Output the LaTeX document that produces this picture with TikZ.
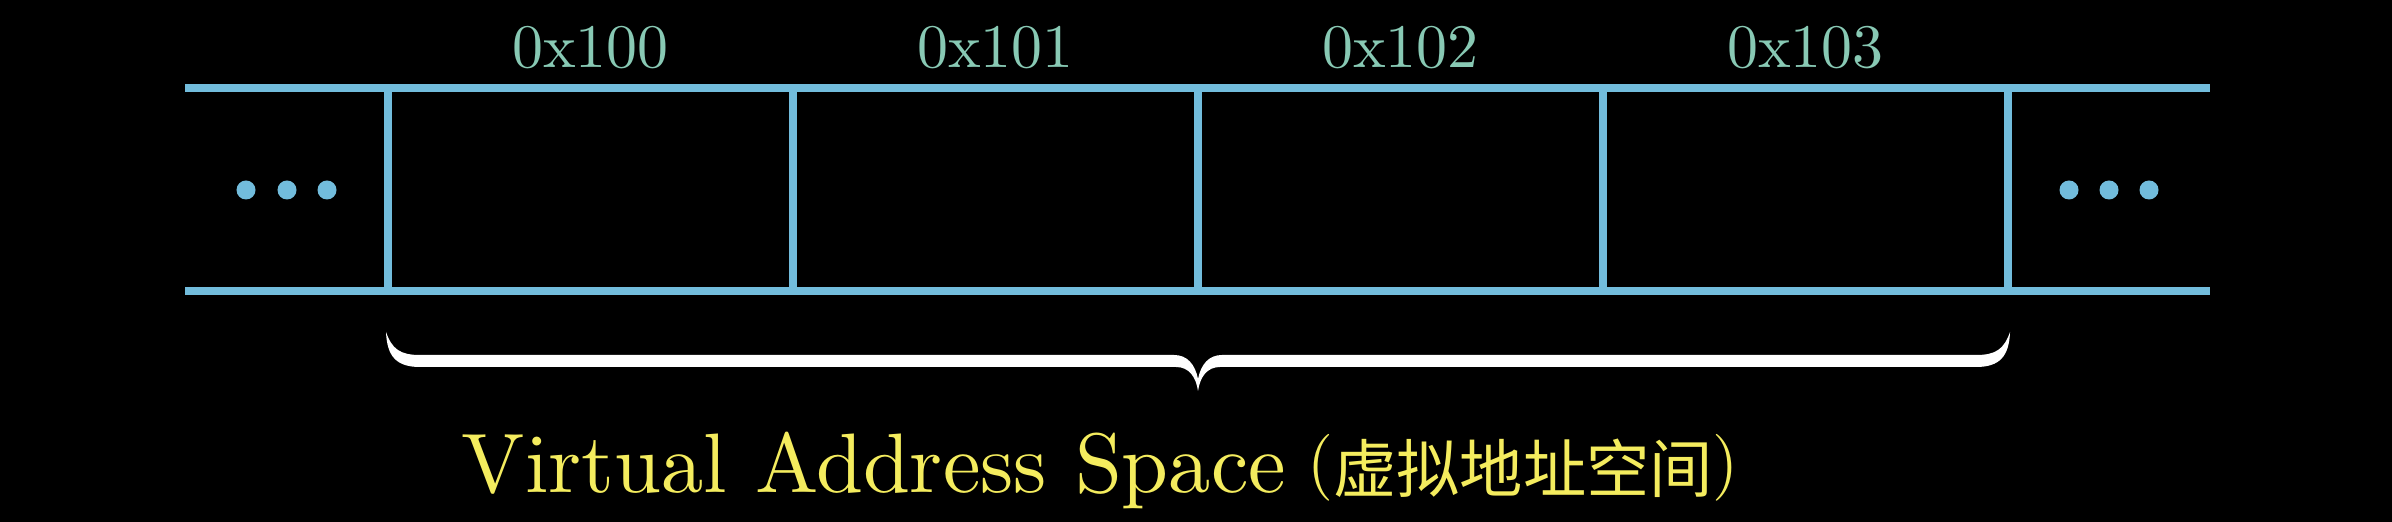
\documentclass[tikz,border=0pt]{standalone}
\usepackage{fontspec}
\newfontfamily\cjk{Noto Sans CJK SC}
\newfontfamily\lmten{lmroman10-regular.otf}
\usepackage{tikz}
\usetikzlibrary{calc, positioning}
\definecolor{memblue}{HTML}{72BCDC}
\definecolor{addrteal}{HTML}{88C9B4}
\definecolor{vyellow}{HTML}{F4EC5E}

\begin{document}
\begin{tikzpicture}[x=0.01cm, y=-0.01cm,
    cellline/.style={memblue, line width=2.45pt},
    addrlabel/.style={text=addrteal, anchor=base, inner sep=0pt, font=\lmten\fontsize{17.6}{17.6}\selectfont},
    dotnode/.style={circle, fill=memblue, inner sep=0pt, minimum size=0.19cm}]
      \fill[black] (0,0) rectangle (2392,522);
      \useasboundingbox (0,0) rectangle (2392,522);

      % memory strip
      \coordinate (tl) at (185,88);
      \coordinate (tr) at (2210,88);
      \coordinate (bl) at (185,291);
      \coordinate (br) at (2210,291);
      \draw[cellline] (tl) -- (tr);
      \draw[cellline] (bl) -- (br);
      \foreach \i/\x in {0/388,1/793,2/1198,3/1603,4/2008} {
        \coordinate (s\i) at (\x,88);
        \coordinate (e\i) at (\x,291);
        \draw[cellline] (s\i) -- (e\i);
      }

      % addresses
      \foreach \i/\x in {0/590.5,1/995.5,2/1400.5,3/1805.5} {
        \node[addrlabel] (addr\i) at (\x,68) {0x10\i};
      }

      % ellipsis dots
      \foreach \i/\x in {1/246,2/287,3/327} {
        \node[dotnode] (ldot\i) at (\x,190) {};
      }
      \foreach \i/\x in {1/2069,2/2109,3/2149} {
        \node[dotnode] (rdot\i) at (\x,190) {};
      }

      % brace
      \fill[white] (386,332) .. controls (387,356) and (396,367) .. (420,367)
        -- (1176,367) .. controls (1189,367) and (1196,377) .. (1198,391)
        .. controls (1200,377) and (1207,367) .. (1220,367)
        -- (1976,367) .. controls (2000,367) and (2009,356) .. (2010,332)
        .. controls (2004,349) and (1996,355) .. (1976,355)
        -- (1222,355) .. controls (1209,355) and (1201,364) .. (1198,379)
        .. controls (1195,364) and (1187,355) .. (1174,355)
        -- (420,355) .. controls (400,355) and (392,349) .. (386,332) -- cycle;

      % caption
      \node[anchor=base west, inner sep=0pt, text=vyellow] (vas) at (461,492)
        {\lmten\fontsize{24}{24}\selectfont Virtual Address Space\hspace{6pt}{\fontsize{19}{19}\selectfont\raisebox{2pt}{(}{\cjk\fontsize{18}{18}\selectfont 虚拟地址空间}\raisebox{2pt}{)}}};
    \end{tikzpicture}
\end{document}
